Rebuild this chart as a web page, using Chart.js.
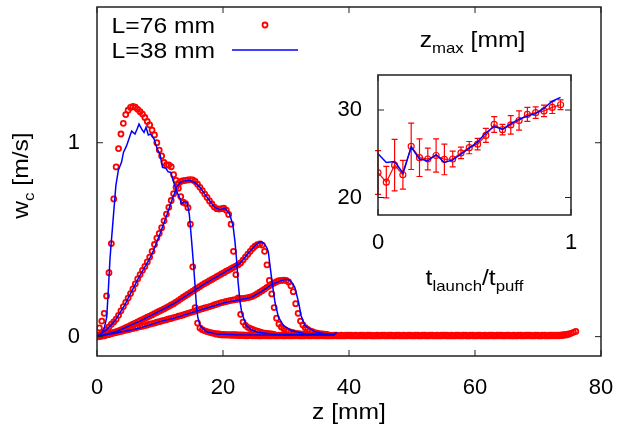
<!DOCTYPE html>
<html>
<head>
<meta charset="utf-8">
<script src="https://cdn.jsdelivr.net/npm/chart.js@4.4.1/dist/chart.umd.min.js"></script>
<style>
html, body { margin: 0; padding: 0; background: #fff; }
#wrap { position: relative; width: 623px; height: 431px; }
#wrap canvas { position: absolute; left: 0; top: 0; }
</style>
</head>
<body>
<div id="wrap">
  <canvas id="mainChart" width="623" height="431"></canvas>
  <canvas id="insetChart" width="623" height="431"></canvas>
</div>
<script>
const FONT = "'Liberation Sans', Arial, Helvetica, sans-serif";
Chart.defaults.font.family = FONT;
Chart.defaults.font.size = 22;
Chart.defaults.color = '#000';

// L=76 mm profiles, sampled every dz mm along z
const dz = 0.38;
const wA76 = [0, 0.045, 0.08, 0.12, 0.21, 0.33, 0.48, 0.71, 0.875, 0.97,
  1.045, 1.1, 1.145, 1.168, 1.182, 1.187, 1.183, 1.172, 1.16, 1.148,
  1.13, 1.11, 1.092, 1.065, 1.04, 1.0, 0.962, 0.932, 0.898, 0.885,
  0.885, 0.876, 0.835, 0.806, 0.765, 0.722, 0.693, 0.686, 0.665, 0.58,
  0.36, 0.15, 0.07, 0.045, 0.036, 0.03, 0.026, 0.022, 0.019, 0.016,
  0.014, 0.012, 0.01, 0.01, 0.009, 0.009, 0.008, 0.008, 0.008, 0.007, 0.007,
  0.007, 0.006, 0.006, 0.007, 0.006, 0.006, 0.006, 0.005, 0.006, 0.006, 0.006, 0.005, 0.006, 0.006, 0.005, 0.006, 0.006, 0.005, 0.006,
  0.006, 0.005, 0.006, 0.006, 0.006, 0.005, 0.005, 0.006, 0.006, 0.005, 0.006, 0.006, 0.005, 0.006, 0.006, 0.006, 0.005, 0.006, 0.005,
  0.006, 0.006, 0.005, 0.006, 0.005, 0.006, 0.006, 0.006, 0.005, 0.006, 0.005, 0.006, 0.006, 0.005, 0.006, 0.006, 0.005, 0.005, 0.006,
  0.005, 0.006, 0.006, 0.005, 0.006, 0.006, 0.005, 0.006, 0.006, 0.005, 0.006, 0.005, 0.006, 0.006, 0.005, 0.006, 0.006, 0.005, 0.006,
  0.006, 0.005, 0.006, 0.006, 0.005, 0.006, 0.005, 0.006, 0.006, 0.006, 0.005, 0.006, 0.005, 0.006, 0.006, 0.005, 0.006, 0.006, 0.005,
  0.006, 0.006, 0.005, 0.006, 0.006, 0.005, 0.006, 0.005, 0.006, 0.006, 0.005, 0.006, 0.006, 0.006, 0.005, 0.006, 0.006, 0.005, 0.006,
  0.005, 0.006, 0.006, 0.005, 0.006, 0.006, 0.006, 0.005, 0.006, 0.006, 0.005, 0.006, 0.006, 0.005, 0.006, 0.006, 0.006, 0.006, 0.006,
  0.007, 0.008, 0.01, 0.013, 0.017, 0.022, 0.027];
const wB76 = [0, 0.008, 0.016, 0.026, 0.036, 0.05, 0.064, 0.076, 0.09, 0.11,
  0.133, 0.155, 0.177, 0.199, 0.222, 0.246, 0.272, 0.298, 0.32, 0.342,
  0.362, 0.385, 0.41, 0.44, 0.475, 0.508, 0.532, 0.562, 0.597, 0.632,
  0.667, 0.702, 0.737, 0.77, 0.79, 0.8, 0.804, 0.806, 0.808, 0.81,
  0.808, 0.8, 0.786, 0.77, 0.753, 0.735, 0.718, 0.7, 0.684, 0.668,
  0.66, 0.658, 0.66, 0.662, 0.652, 0.63, 0.58, 0.44, 0.32, 0.2,
  0.115, 0.075, 0.058, 0.048, 0.042, 0.037, 0.032, 0.028, 0.024, 0.021,
  0.018, 0.016, 0.014, 0.012, 0.01];
const wC76 = [0, 0.003, 0.006, 0.009, 0.012, 0.016, 0.019, 0.022, 0.026, 0.03,
  0.035, 0.04, 0.046, 0.052, 0.058, 0.064, 0.07, 0.076, 0.082, 0.088,
  0.094, 0.1, 0.106, 0.112, 0.119, 0.125, 0.131, 0.137, 0.143, 0.15,
  0.156, 0.163, 0.17, 0.178, 0.186, 0.195, 0.203, 0.211, 0.219, 0.227,
  0.235, 0.243, 0.251, 0.259, 0.267, 0.274, 0.281, 0.288, 0.295, 0.302,
  0.309, 0.316, 0.323, 0.33, 0.337, 0.343, 0.35, 0.357, 0.364, 0.371,
  0.38, 0.395, 0.41, 0.425, 0.44, 0.455, 0.466, 0.474, 0.478, 0.472,
  0.44, 0.37, 0.29, 0.22, 0.15, 0.095, 0.065, 0.05, 0.04, 0.032,
  0.027, 0.023, 0.02, 0.017, 0.015, 0.013, 0.011, 0.01];
const wD76 = [0, 0.002, 0.004, 0.006, 0.009, 0.012, 0.015, 0.018, 0.021, 0.024,
  0.027, 0.03, 0.033, 0.036, 0.039, 0.042, 0.045, 0.048, 0.051, 0.054,
  0.057, 0.06, 0.064, 0.067, 0.07, 0.074, 0.077, 0.081, 0.084, 0.087,
  0.091, 0.094, 0.098, 0.101, 0.105, 0.108, 0.112, 0.116, 0.12, 0.124,
  0.128, 0.132, 0.136, 0.14, 0.144, 0.148, 0.151, 0.155, 0.159, 0.163,
  0.167, 0.171, 0.175, 0.178, 0.181, 0.184, 0.187, 0.189, 0.191, 0.193,
  0.195, 0.197, 0.199, 0.201, 0.204, 0.208, 0.214, 0.221, 0.229, 0.237,
  0.245, 0.254, 0.262, 0.27, 0.277, 0.283, 0.288, 0.29, 0.291, 0.29,
  0.282, 0.262, 0.232, 0.17, 0.12, 0.08, 0.06, 0.046, 0.037, 0.03,
  0.025, 0.021, 0.018, 0.015, 0.013, 0.011, 0.01];

// L=38 mm profiles (z in mm, w in m/s)
const zA38 = [0, 0.8, 1.2, 1.54, 1.8, 2.06, 2.3, 2.6, 3.0, 3.4, 3.9, 4.2, 4.7, 5.24, 5.5, 6.03, 6.4, 6.67, 7.1, 7.46,
  7.78, 8.15, 8.5, 9.05, 9.57, 10.0, 10.4, 10.95, 11.3, 11.7, 12.1, 12.7, 13.2, 13.4, 13.8, 14.3, 14.65, 15.0, 15.25, 15.55,
  15.8, 16.0, 16.35, 17.4, 19.0, 22.0, 30.0, 37.6, 38.0];
const wA38 = [0, 0.02, 0.05, 0.1, 0.24, 0.4, 0.5, 0.62, 0.78, 0.86, 0.9, 0.95, 0.985, 1.036, 1.06, 1.045, 1.073, 1.096, 1.07, 1.053,
  1.08, 1.04, 1.045, 1.02, 0.967, 0.94, 0.873, 0.868, 0.85, 0.847, 0.804, 0.744, 0.71, 0.684, 0.696, 0.69, 0.632, 0.5, 0.4, 0.27,
  0.15, 0.1, 0.057, 0.025, 0.014, 0.01, 0.008, 0.01, 0.02];
const zB38 = [0, 1.5, 2.86, 4.44, 4.97, 6.56, 7.35, 8.15, 8.95, 10.0, 11.0, 11.85, 12.65, 13.2, 13.7, 14.76, 15.7, 16.35, 17.1, 17.9,
  18.7, 19.5, 20.3, 21.0, 21.3, 21.6, 21.9, 22.2, 22.4, 22.7, 23.0, 23.7, 24.5, 25.6, 28.0, 33.0, 37.6, 38.0];
const wB38 = [0, 0.035, 0.082, 0.165, 0.2, 0.3, 0.345, 0.39, 0.443, 0.53, 0.62, 0.7, 0.77, 0.795, 0.802, 0.806, 0.79, 0.77, 0.735, 0.7,
  0.666, 0.655, 0.662, 0.635, 0.605, 0.57, 0.49, 0.38, 0.28, 0.18, 0.12, 0.057, 0.035, 0.022, 0.012, 0.009, 0.01, 0.02];
const zC38 = [0, 3.0, 6.83, 12.1, 17.4, 20.3, 22.7, 24.0, 25.1, 25.7, 26.1, 26.6, 27.0, 27.2, 27.46, 27.8, 28.25, 28.8, 29.6, 30.9, 33.0, 37.6, 38.0];
const wC38 = [0, 0.025, 0.08, 0.168, 0.278, 0.333, 0.378, 0.43, 0.47, 0.485, 0.49, 0.478, 0.455, 0.435, 0.366, 0.28, 0.177, 0.1, 0.057, 0.03, 0.015, 0.01, 0.02];
const zD38 = [0, 5.0, 6.83, 10.25, 12.1, 17.4, 20.3, 22.7, 24.5, 26.1, 27.7, 29.3, 30.0, 30.4, 30.9, 31.4, 32.0, 32.4, 33.0, 34.6, 36.0, 37.6, 38.0];
const wD38 = [0, 0.032, 0.045, 0.08, 0.094, 0.148, 0.176, 0.19, 0.203, 0.232, 0.268, 0.29, 0.294, 0.294, 0.28, 0.254, 0.177, 0.108, 0.057, 0.025, 0.015, 0.012, 0.022];

const xTicks = [0, 20, 40, 60, 80];
const yTicks = [0, 1];

// inset: z_max against t_launch/t_puff
const tRatio = [0, 0.043, 0.086, 0.129, 0.172, 0.215, 0.258, 0.301, 0.344, 0.387, 0.43, 0.473,
  0.516, 0.559, 0.602, 0.645, 0.688, 0.731, 0.774, 0.817, 0.86, 0.903, 0.946];
const zmax76 = [22.85, 21.75, 23.7, 22.6, 25.85, 24.55, 24.4, 24.8, 24.35, 24.4, 25.1, 25.7,
  26.1, 27.1, 28.35, 27.75, 28.3, 28.8, 29.5, 29.7, 29.9, 30.3, 30.6];
const zmax76Err = [2.5, 1.8, 2.95, 1.65, 2.65, 2.15, 1.25, 1.9, 1.75, 0.9, 0.65, 0.7,
  0.65, 0.8, 0.9, 0.6, 1.05, 1.1, 0.8, 0.65, 0.65, 0.7, 0.55];
const zmax38 = [25.0, 24.0, 24.1, 22.8, 25.75, 24.4, 24.2, 24.9, 24.0, 24.3, 24.95, 25.65,
  26.35, 27.4, 28.1, 27.8, 28.45, 28.95, 29.3, 29.6, 30.2, 31.0, 31.45];
const insetXTicks = [0, 1];
const insetYTicks = [20, 30];

const RED = '#ff0000';
const BLUE = '#0000ff';

const sampled = ws => ws.map((w, i) => ({ x: i * dz, y: w }));
const curve = (xs, ys) => xs.map((x, i) => ({ x: x, y: ys[i] }));

// text with subscripts, parts = [[text, isSub], ...]; glyphs a bit wider than Arial
function richText(ctx, parts, x, y, align, angle) {
  const big = '22px ' + FONT, small = '15px ' + FONT;
  const stretch = 1.12;
  ctx.save();
  ctx.translate(x, y);
  if (angle) ctx.rotate(angle);
  ctx.scale(stretch, 1);
  ctx.textBaseline = 'alphabetic';
  ctx.textAlign = 'left';
  ctx.fillStyle = '#000';
  let w = 0;
  parts.forEach(p => { ctx.font = p[1] ? small : big; w += ctx.measureText(p[0]).width; });
  let cx = align === 'center' ? -w / 2 : (align === 'right' ? -w : 0);
  parts.forEach(p => {
    ctx.font = p[1] ? small : big;
    ctx.fillText(p[0], cx, p[1] ? 6 : 0);
    cx += ctx.measureText(p[0]).width;
  });
  ctx.restore();
}

const framePlugin = {
  id: 'frame',
  beforeDraw(chart, args, opts) {
    if (!opts.fill) return;
    const a = chart.chartArea, ctx = chart.ctx;
    ctx.save();
    ctx.fillStyle = '#fff';
    ctx.fillRect(a.left, a.top, a.right - a.left, a.bottom - a.top);
    ctx.restore();
  },
  afterDraw(chart, args, opts) {
    const a = chart.chartArea, ctx = chart.ctx;
    const sx = chart.scales.x, sy = chart.scales.y;
    const len = opts.len || 6;
    ctx.save();
    ctx.strokeStyle = '#222';
    ctx.lineWidth = 1;
    ctx.beginPath();
    sx.ticks.forEach(t => {
      const px = sx.getPixelForValue(t.value);
      ctx.moveTo(px, a.bottom); ctx.lineTo(px, a.bottom - len);
      ctx.moveTo(px, a.top); ctx.lineTo(px, a.top + len);
    });
    sy.ticks.forEach(t => {
      const py = sy.getPixelForValue(t.value);
      ctx.moveTo(a.left, py); ctx.lineTo(a.left + len, py);
      ctx.moveTo(a.right, py); ctx.lineTo(a.right - len, py);
    });
    ctx.stroke();
    ctx.lineWidth = 1.5;
    ctx.strokeRect(a.left, a.top, a.right - a.left, a.bottom - a.top);
    ctx.restore();
  }
};

const errorBars = {
  id: 'errorBars',
  beforeDatasetsDraw(chart) {
    const ctx = chart.ctx, sx = chart.scales.x, sy = chart.scales.y;
    chart.data.datasets.forEach(ds => {
      if (!ds.errors) return;
      ctx.save();
      ctx.strokeStyle = ds.borderColor;
      ctx.lineWidth = 1.2;
      ctx.beginPath();
      ds.data.forEach((p, i) => {
        const x = sx.getPixelForValue(p.x);
        const y1 = sy.getPixelForValue(p.y - ds.errors[i]);
        const y2 = sy.getPixelForValue(p.y + ds.errors[i]);
        ctx.moveTo(x, y1); ctx.lineTo(x, y2);
        ctx.moveTo(x - 3, y1); ctx.lineTo(x + 3, y1);
        ctx.moveTo(x - 3, y2); ctx.lineTo(x + 3, y2);
      });
      ctx.stroke();
      ctx.restore();
    });
  }
};

const mainText = {
  id: 'mainText',
  afterDraw(chart) {
    const a = chart.chartArea, ctx = chart.ctx;
    richText(ctx, [['z [mm]', false]], (a.left + a.right) / 2, a.bottom + 63, 'center');
    richText(ctx, [['w', false], ['c', true], [' [m/s]', false]], 28, (a.top + a.bottom) / 2 - 6, 'center', -Math.PI / 2);
    // key
    richText(ctx, [['L=76 mm', false]], a.left + 118, a.top + 26, 'right');
    richText(ctx, [['L=38 mm', false]], a.left + 118, a.top + 51, 'right');
    ctx.save();
    ctx.strokeStyle = RED;
    ctx.lineWidth = 1.8;
    ctx.beginPath();
    ctx.arc(a.left + 168, a.top + 18, 2.5, 0, Math.PI * 2);
    ctx.stroke();
    ctx.strokeStyle = BLUE;
    ctx.lineWidth = 1.5;
    ctx.beginPath();
    ctx.moveTo(a.left + 135, a.top + 43);
    ctx.lineTo(a.left + 201, a.top + 43);
    ctx.stroke();
    ctx.restore();
  }
};

const insetText = {
  id: 'insetText',
  afterDraw(chart) {
    const a = chart.chartArea, ctx = chart.ctx;
    const cx = (a.left + a.right) / 2;
    richText(ctx, [['z', false], ['max', true], [' [mm]', false]], cx - 2, a.top - 28, 'center');
    richText(ctx, [['t', false], ['launch', true], ['/t', false], ['puff', true]], cx, a.bottom + 70, 'center');
  }
};

function axis(min, max, tickVals, size, pad, isX) {
  return {
    type: 'linear', min: min, max: max,
    afterBuildTicks: s => { s.ticks = tickVals.map(v => ({ value: v })); },
    afterFit: s => {
      if (isX) s.height = size; else s.width = size;
      s.paddingLeft = 0; s.paddingRight = 0; s.paddingTop = 0; s.paddingBottom = 0;
    },
    grid: { display: false, drawTicks: false },
    border: { display: false },
    ticks: { padding: pad, maxRotation: 0, autoSkip: false, callback: v => String(v) }
  };
}

// near the baseline the overlapping rings merge into one solid band, as in the original
const ringWidth = c => (c.raw && c.raw.y < 0.015 ? 2.4 : 1.8);
const redPts = (data) => ({
  data: data, showLine: false, order: 1,
  pointRadius: 2.5, pointBorderWidth: ringWidth, pointBorderColor: RED, pointBackgroundColor: 'rgba(0,0,0,0)',
  borderColor: RED, pointHoverRadius: 2.5
});
const blueLine = (data) => ({
  data: data, showLine: true, order: 0, pointRadius: 0, borderColor: BLUE, borderWidth: 1.5, tension: 0
});

new Chart(document.getElementById('mainChart'), {
  type: 'scatter',
  data: {
    datasets: [
      blueLine(curve(zA38, wA38)),
      blueLine(curve(zB38, wB38)),
      blueLine(curve(zC38, wC38)),
      blueLine(curve(zD38, wD38)),
      redPts(sampled(wA76)),
      redPts(sampled(wB76)),
      redPts(sampled(wC76)),
      redPts(sampled(wD76))
    ]
  },
  options: {
    responsive: false,
    animation: false,
    events: [],
    layout: { padding: { top: 7, right: 22, bottom: 0, left: 0 } },
    scales: {
      x: axis(0, 80, xTicks, 75, 19, true),
      y: axis(-0.1, 1.7, yTicks, 97, 17, false)
    },
    plugins: { legend: { display: false }, tooltip: { enabled: false }, frame: { len: 6 } }
  },
  plugins: [framePlugin, mainText]
});

new Chart(document.getElementById('insetChart'), {
  type: 'scatter',
  data: {
    datasets: [
      {
        data: curve(tRatio, zmax38), showLine: true, order: 0,
        pointRadius: 0, borderColor: BLUE, borderWidth: 1.5, tension: 0
      },
      {
        data: curve(tRatio, zmax76), errors: zmax76Err, showLine: true, order: 1,
        borderColor: RED, borderWidth: 1.2, tension: 0,
        pointRadius: 3, pointBorderWidth: 1.2, pointBorderColor: RED, pointBackgroundColor: 'rgba(0,0,0,0)'
      }
    ]
  },
  options: {
    responsive: false,
    animation: false,
    events: [],
    layout: { padding: { top: 75, right: 52, bottom: 156, left: 328 } },
    scales: {
      x: axis(0, 1, insetXTicks, 60, 15, true),
      y: axis(18, 34, insetYTicks, 50, 16, false)
    },
    plugins: { legend: { display: false }, tooltip: { enabled: false }, frame: { len: 6, fill: true } }
  },
  plugins: [framePlugin, errorBars, insetText]
});
</script>
</body>
</html>
